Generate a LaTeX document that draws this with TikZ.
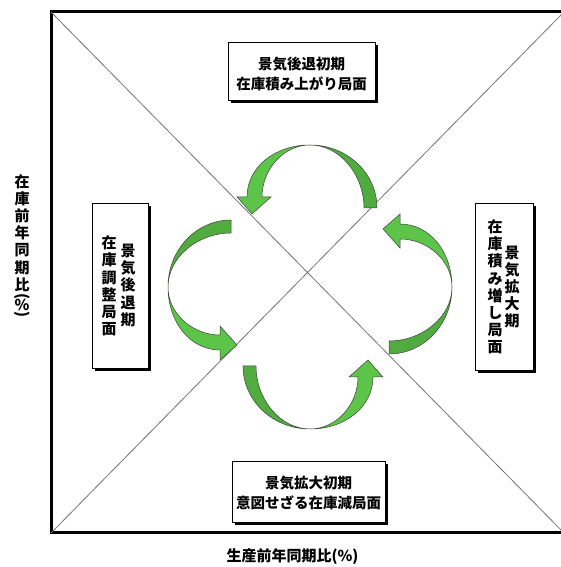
\documentclass[tikz,border=0pt]{standalone}
\usepackage{fontspec}
\setmainfont{Noto Sans CJK JP}
\usetikzlibrary{shadows}
\definecolor{cyclegreen}{RGB}{92,196,72}

\begin{document}
\begin{tikzpicture}[x=1pt,y=1pt]

\tikzstyle{phase}=[draw,fill=white,line width=0.8pt,inner sep=0pt,outer sep=0pt,drop shadow={shadow xshift=3pt,shadow yshift=-3pt,fill=black,opacity=1}]
\tikzstyle{yoko}=[align=center,inner sep=0pt,font=\bfseries\fontsize{14.5}{20}\selectfont]
\tikzstyle{tate}=[align=center,inner sep=0pt,font=\bfseries\fontsize{15}{17.2}\selectfont]
\tikzstyle{diag}=[draw=black!55,line width=0.8pt]
\tikzstyle{tailpart}=[fill=cyclegreen!88!black,draw=black!75,line width=0.5pt]
\tikzstyle{headpart}=[fill=cyclegreen,draw=black!75,line width=0.5pt]

\useasboundingbox (0,0) rectangle (561,567);

% FRAME
\node (frame) [draw,line width=3pt,minimum width=513pt,minimum height=521pt,inner sep=0pt,outer sep=0pt] at (307.5,294.5) {};

% DIAGONALS
\draw [diag] (frame.north west) -- (frame.south east);
\draw [diag] (frame.south west) -- (frame.north east);

% CYCLE ARROWS
\coordinate (hub) at (310,280);
\foreach \turn in {0,90,180,270}{
\begin{scope}[shift={(hub)},rotate=\turn,yshift=82pt]
\filldraw [tailpart] (67,-3) .. controls (67,32) and (37,60) .. (0,60) .. controls (30,60) and (54,30) .. (54,-3) -- cycle;
\filldraw [headpart] (0,60) .. controls (-35,60) and (-63,38) .. (-63,8) -- (-73,8) -- (-58,-9) -- (-39,8) -- (-48,8) .. controls (-48,35) and (-27,60) .. (0,60) -- cycle;
\end{scope}
}

% PHASE BOXES
\node (upper) [phase,minimum width=147pt,minimum height=58pt] at (301.5,496) {};
\node (upperText) [yoko] at ([yshift=-3pt]upper.center) {景気後退初期\\在庫積み上がり局面};

\node (lower) [phase,minimum width=153pt,minimum height=61pt] at (308.5,75.5) {};
\node (lowerText) [yoko] at ([yshift=-1pt]lower.center) {景気拡大初期\\意図せざる在庫減局面};

\node (west) [phase,minimum width=56pt,minimum height=165pt] at (120,281.5) {};
\node (westA) [tate] at (128,281.5) {景\\気\\後\\退\\期};
\node (westB) [tate] at (109,281) {在\\庫\\調\\整\\局\\面};

\node (east) [phase,minimum width=58pt,minimum height=167pt] at (504,280.5) {};
\node (eastA) [tate] at (512,280) {景\\気\\拡\\大\\期};
\node (eastB) [tate] at (495,280) {在\\庫\\積\\み\\増\\し\\局\\面};

% AXIS LABELS
\node (xlabel) [font=\bfseries\fontsize{15}{18}\selectfont,inner sep=0pt] at (292.5,10) {生産前年同期比(\%)};
\node (ylabel) [tate,anchor=north] at (22,393) {在\\庫\\前\\年\\同\\期\\比\\[-6pt]\rotatebox[origin=c]{-90}{(}\\[-8.6pt]\%\\[-8.3pt]\rotatebox[origin=c]{-90}{)}};

\end{tikzpicture}
\end{document}
